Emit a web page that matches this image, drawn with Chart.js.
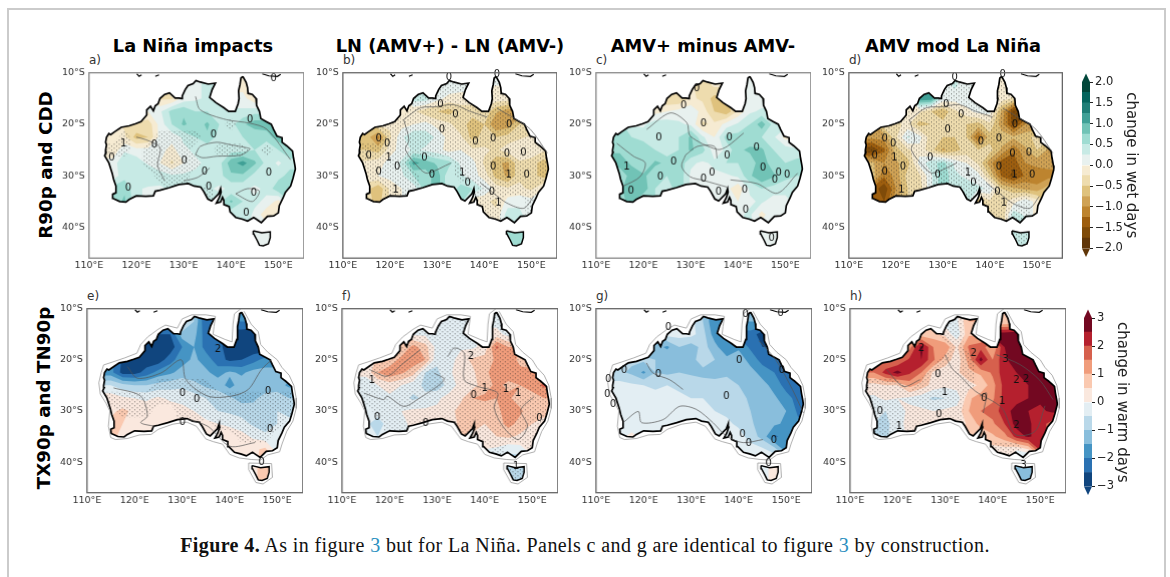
<!DOCTYPE html>
<html>
<head>
<meta charset="utf-8">
<script src="https://cdn.jsdelivr.net/npm/chart.js@4"></script>
<style>
  html, body { margin: 0; background: #fff; }
  #page { position: relative; width: 1170px; height: 577px; overflow: hidden; background: #fff; }
  #page canvas { position: absolute; }
  .txt { position: absolute; white-space: nowrap; font-family: "DejaVu Sans", sans-serif; color: #000; }
  .title { font-weight: bold; font-size: 17.8px; transform: translateX(-50%); }
  .letter { font-size: 12px; color: #333; }
  .row { font-weight: bold; font-size: 18.3px; transform: translate(-50%, -50%) rotate(-90deg); }
  #frame { position: absolute; left: 7px; top: 8px; width: 1155px; height: 600px; border: 2px solid #cbcbcb; }
  #caption { position: absolute; left: 0; width: 1170px; top: 534px; text-align: center; font-family: "Liberation Serif", serif; font-size: 20px; letter-spacing: 0.4px; color: #111; }
  #caption span { color: #2a8fc0; }
</style>
</head>
<body>
<div id="page">
  <div id="frame"></div>
  <div class="txt title" style="left:193px;top:35px">La Niña impacts</div>
  <div class="txt title" style="left:450px;top:35px">LN (AMV+) - LN (AMV-)</div>
  <div class="txt title" style="left:703px;top:35px">AMV+ minus AMV-</div>
  <div class="txt title" style="left:953px;top:35px">AMV mod La Niña</div>
  <div class="txt row" style="left:45px;top:165px">R90p and CDD</div>
  <div class="txt row" style="left:43px;top:398px">TX90p and TN90p</div>
  <div class="txt letter" style="left:89px;top:53px">a)</div>
  <div class="txt letter" style="left:343px;top:53px">b)</div>
  <div class="txt letter" style="left:596px;top:53px">c)</div>
  <div class="txt letter" style="left:849px;top:53px">d)</div>
  <div class="txt letter" style="left:87px;top:289px">e)</div>
  <div class="txt letter" style="left:342px;top:289px">f)</div>
  <div class="txt letter" style="left:596px;top:289px">g)</div>
  <div class="txt letter" style="left:850px;top:289px">h)</div>
  <div id="caption"><b>Figure 4.</b> As in figure <span>3</span> but for La Niña. Panels c and g are identical to figure <span>3</span> by construction.</div>
</div>
<script>
const o = null;
const sea = Array(18).fill(o);

const lonNodes = [112.5, 115, 117.5, 120, 122.5, 125, 127.5, 130, 132.5, 135, 137.5, 140, 142.5, 145, 147.5, 150, 152.5, 155];
const latNodes = [-10, -12.5, -15, -17.5, -20, -22.5, -25, -27.5, -30, -32.5, -35, -37.5, -40, -42.5, -45];
const lonTicks = [110, 120, 130, 140, 150];
const latTicks = [-10, -20, -30, -40];

// change in wet days (land nodes only)
const wetA = [sea,
  [o,o,o,o,o,o,o,.1,.2,.3,o,o,-.1,o,o,o,o,o],
  [o,o,o,o,o,o,-.3,.1,.2,.3,o,o,.1,-.2,o,o,o,o],
  [o,o,o,o,0,.2,.6,.7,.5,.5,.4,.3,.3,.4,o,o,o,o],
  [o,o,o,-.3,-.4,.1,.5,.8,.6,.8,.5,.4,.7,.9,.9,o,o,o],
  [o,-.1,-.2,-.6,-.5,.1,.1,.3,.5,.7,.4,.4,.5,.5,.6,.9,o,o],
  [o,-.2,.2,.1,.1,.1,-.1,.2,.3,.3,.3,.4,.4,.5,.3,.5,.7,o],
  [o,.1,.5,.4,.2,0,-.3,0,.2,.3,.4,.9,1.1,.8,.4,.2,.4,o],
  [o,.1,.4,.3,.5,.4,.3,.3,.3,.3,.4,.7,.7,.4,.3,.4,.6,o],
  [o,.6,.7,.3,.2,.2,o,o,o,.3,.2,.3,.3,.2,.3,.7,.5,o],
  [o,o,.8,.3,o,o,o,o,o,o,.4,.8,.5,.3,.2,-.1,o,o],
  [o,o,o,o,o,o,o,o,o,o,o,.3,.4,.2,-.2,o,o,o],
  [o,o,o,o,o,o,o,o,o,o,o,o,o,.1,.1,o,o,o],
  [o,o,o,o,o,o,o,o,o,o,o,o,o,.1,.1,o,o,o], sea];
const wetB = [sea,
  [o,o,o,o,o,o,o,0,.2,.1,o,o,0,o,o,o,o,o],
  [o,o,o,o,o,o,.4,.1,-.1,-.1,o,o,-.1,-.1,o,o,o,o],
  [o,o,o,o,-.1,-.2,-.4,-.5,-.6,-.4,-.4,-.3,-.7,-.9,o,o,o,o],
  [o,o,o,-.2,-.1,0,.1,-.1,-.2,-.4,-.6,-.5,-1,-.9,-.5,o,o,o],
  [o,-.6,-1.1,-.3,.2,.5,.4,.2,-.1,-.2,-.6,-.4,-.5,-.4,-.3,-.2,o,o],
  [o,-.5,-.6,-.1,.1,.3,.2,.1,-.1,0,-.2,-.2,-.3,-.1,0,0,-.2,o],
  [o,-.2,-.1,.1,.3,1.1,.9,.7,.6,.2,.1,-.3,-.7,-.8,-.3,-.4,-.6,o],
  [o,-.1,0,.1,.2,.5,.6,.9,.3,.3,.1,-.1,-.6,-.8,-.3,-.4,-.6,o],
  [o,-.4,-.7,-.2,0,.1,o,o,o,.6,.5,.2,-.1,-.2,-.2,-.3,0,o],
  [o,o,-.6,-.2,o,o,o,o,o,o,-.2,-.2,-.3,.1,.2,.1,o,o],
  [o,o,o,o,o,o,o,o,o,o,o,-.2,-.2,.4,.3,o,o,o],
  [o,o,o,o,o,o,o,o,o,o,o,o,o,.5,.5,o,o,o],
  [o,o,o,o,o,o,o,o,o,o,o,o,o,.5,.5,o,o,o], sea];
const wetC = [sea,
  [o,o,o,o,o,o,o,-.2,-.4,-.2,o,o,0,o,o,o,o,o],
  [o,o,o,o,o,o,-.5,-.2,-.3,-.6,o,o,.1,.1,o,o,o,o],
  [o,o,o,o,-.1,0,.1,.2,-.1,-.5,-.7,-.2,.2,.3,o,o,o,o],
  [o,o,o,.2,.4,.4,.3,.2,-.3,-.2,.1,.3,.5,.9,.4,o,o,o],
  [o,.6,.5,.4,.4,.3,.5,.8,.3,0,.6,.6,.6,.5,.3,-.1,o,o],
  [o,.7,.5,.7,.5,.3,.5,.8,.6,.1,.3,.7,.8,.8,.5,.4,.3,o],
  [o,.9,.7,.5,.8,.7,.7,.3,.2,.3,.5,.5,.6,.9,.6,.5,.6,o],
  [o,.5,.9,.8,.6,.5,.7,.2,.1,.2,.2,.3,.7,1,.8,.6,.5,o],
  [o,.7,.9,.9,.5,.3,o,o,o,.2,.1,-.2,.3,.5,.4,.3,.3,o],
  [o,o,.8,.5,o,o,o,o,o,o,.1,0,.2,.3,.1,.2,o,o],
  [o,o,o,o,o,o,o,o,o,o,o,.2,.3,-.1,.2,o,o,o],
  [o,o,o,o,o,o,o,o,o,o,o,o,o,.1,.1,o,o,o],
  [o,o,o,o,o,o,o,o,o,o,o,o,o,.1,.1,o,o,o], sea];
const wetD = [sea,
  [o,o,o,o,o,o,o,.1,.3,.1,o,o,-.1,o,o,o,o,o],
  [o,o,o,o,o,o,1.2,.2,.1,.2,o,o,-.1,-.3,o,o,o,o],
  [o,o,o,o,-.2,-.2,-.5,-.7,-.3,-.1,.1,.1,-.8,-1.7,o,o,o,o],
  [o,o,o,-.3,-.2,-.6,-.5,-.4,-.3,-.5,-.6,-.3,-.9,-1.6,-1,o,o,o],
  [o,-.9,-.9,-.3,.3,.1,-.4,-.5,-.5,-.5,-1.3,-.6,-.6,-.7,-.6,-.4,o,o],
  [o,-1.7,-1.3,-.6,-.3,-.1,-.4,-.8,-.6,-.4,-.5,-.4,-.8,-1.2,-.8,-.5,-.8,o],
  [o,-.7,-1,-.8,-.6,.1,.4,.6,.2,0,-.3,-.9,-1.4,-1.4,-1,-.9,-.9,o],
  [o,-.6,-1.2,-.9,-.4,-.3,.2,.7,.3,.2,.1,-.5,-1.3,-1.6,-1.2,-1.2,-1.1,o],
  [o,-1.3,-1.7,-1,-.5,-.4,o,o,o,.4,.3,.2,-.5,-.7,-.8,-.9,-.6,o],
  [o,o,-1.5,-.8,o,o,o,o,o,o,-.7,-.3,-.4,-.1,.2,-.1,o,o],
  [o,o,o,o,o,o,o,o,o,o,o,-.4,-.5,.4,.2,o,o,o],
  [o,o,o,o,o,o,o,o,o,o,o,o,o,.4,.4,o,o,o],
  [o,o,o,o,o,o,o,o,o,o,o,o,o,.4,.4,o,o,o], sea];

// change in warm days
const warmE = [sea,
  [o,o,o,o,o,o,o,-.3,-1,-2.5,o,o,-2,o,o,o,o,o],
  [o,o,o,o,o,o,-2.5,-1.2,-1.3,-2.3,o,o,-2.8,-2.9,o,o,o,o],
  [o,o,o,o,-2.8,-3.1,-2.8,-2,-1.5,-2.2,-2.3,-2.8,-3,-2.9,o,o,o,o],
  [o,o,o,-2.6,-2.8,-2.8,-2.2,-1.7,-1.4,-1.7,-2.3,-2.6,-2.5,-2.2,-1.8,o,o,o],
  [o,-1.8,-2.7,-2.7,-2.3,-1.8,-1.6,-1.3,-1.4,-1.4,-1.7,-1.4,-1.6,-1.3,-1.3,-1.3,o,o],
  [o,-.5,-.8,-1,-1,-.8,-.7,-.6,-.8,-1.1,-1.2,-1.7,-1.2,-1.3,-1.3,-1.3,-1.6,o],
  [o,.3,.1,0,-.1,.1,-.1,-.2,-.3,-.5,-.7,-.9,-1.2,-1.1,-.8,-.7,-1,o],
  [o,.4,.6,.4,.3,.3,.3,.2,0,-.2,-.5,-.6,-.7,-.8,-.7,-.5,-.7,o],
  [o,.6,.5,.3,.3,.2,o,o,o,.1,0,-.1,-.3,-.6,-.9,-.5,-.3,o],
  [o,o,.4,.2,o,o,o,o,o,o,.3,.3,.2,-.1,-.3,-.3,o,o],
  [o,o,o,o,o,o,o,o,o,o,o,.2,.2,.4,.6,o,o,o],
  [o,o,o,o,o,o,o,o,o,o,o,o,o,.4,.7,o,o,o],
  [o,o,o,o,o,o,o,o,o,o,o,o,o,.4,.7,o,o,o], sea];
const warmF = [sea,
  [o,o,o,o,o,o,o,-.2,-.2,-.3,o,o,-.2,o,o,o,o,o],
  [o,o,o,o,o,o,-.1,-.2,-.4,-.3,o,o,.2,-.2,o,o,o,o],
  [o,o,o,o,.5,1.2,.7,-.2,-.3,-.1,-.1,.2,1.6,1,o,o,o,o],
  [o,o,o,.6,1.2,1.3,1,-.4,-.3,.3,.6,.7,1.1,1.4,.8,o,o,o],
  [o,.1,1,1.4,1.1,.7,-.5,-.6,-.1,.3,.4,.9,1.2,1.2,1.2,1.1,o,o],
  [o,-.2,0,.2,0,-.3,-.6,-.8,-.3,.2,.3,.8,1.1,.9,1,1.3,1.6,o],
  [o,-.2,-.2,-.1,-.3,-.6,-.4,-.1,.2,.4,1,1.1,1,1.1,.7,.7,1,o],
  [o,-.3,-.3,-.1,0,.1,.1,.1,.3,.7,.8,.7,.9,1.2,1.1,.6,.6,o],
  [o,-.4,-.7,-.3,-.1,.1,o,o,o,.6,.7,.5,.7,1.2,.8,.5,.4,o],
  [o,o,-.5,-.3,o,o,o,o,o,o,.4,.4,.5,.6,.4,.3,o,o],
  [o,o,o,o,o,o,o,o,o,o,o,0,-.1,-.4,-.2,o,o,o],
  [o,o,o,o,o,o,o,o,o,o,o,o,o,-.7,-.9,o,o,o],
  [o,o,o,o,o,o,o,o,o,o,o,o,o,-.7,-.9,o,o,o], sea];
const warmG = [sea,
  [o,o,o,o,o,o,o,-.3,-1,-2,o,o,-1.5,o,o,o,o,o],
  [o,o,o,o,o,o,-.3,-.3,-.8,-1.8,o,o,-2.2,-2.8,o,o,o,o],
  [o,o,o,o,-1.3,-1.6,-1,-1.3,-.8,-1.3,-2,-1.6,-2.1,-2.5,o,o,o,o],
  [o,o,o,-.9,-1,-1.1,-1,-1.2,-.7,-1,-1.3,-1.2,-1.7,-2.2,-2.3,o,o,o],
  [o,-.9,-1.1,-1.6,-1,-1.1,-1,-1.1,-1.2,-1.3,-1.1,-1.2,-1.3,-1.7,-2,-2.2,o,o],
  [o,-.3,-.4,-.5,-.6,-.5,-.6,-.6,-.7,-.7,-.8,-1,-1.2,-1.3,-1.7,-2.2,-2.2,o],
  [o,-.2,-.3,-.3,-.3,-.4,-.4,-.5,-.5,-.6,-.7,-.8,-1.1,-1.3,-1.4,-1.8,-2.2,o],
  [o,-.2,-.2,-.2,-.2,-.2,-.2,-.2,-.3,-.5,-.6,-.7,-1,-1.2,-1.3,-1.5,-2.1,o],
  [o,-.1,-.2,-.3,-.2,-.2,o,o,o,-.3,-.4,-.6,-.9,-1.3,-1.4,-1.6,-1.9,o],
  [o,o,.1,-.1,o,o,o,o,o,o,-.3,-.3,-.7,-1.2,-2.1,-1.8,o,o],
  [o,o,o,o,o,o,o,o,o,o,o,-.2,-.3,-.4,-.8,o,o,o],
  [o,o,o,o,o,o,o,o,o,o,o,o,o,-.1,.1,o,o,o],
  [o,o,o,o,o,o,o,o,o,o,o,o,o,-.1,.1,o,o,o], sea];
const warmH = [sea,
  [o,o,o,o,o,o,o,-.2,-.1,1,o,o,.5,o,o,o,o,o],
  [o,o,o,o,o,o,.7,.3,-.3,.9,o,o,2.8,3,o,o,o,o],
  [o,o,o,o,1.3,2.7,1.5,1.4,.4,1.6,1.8,1,2.5,2.6,o,o,o,o],
  [o,o,o,1.5,2.1,2.5,1.6,.8,.2,1.2,2.7,1.5,2.4,2.8,2.7,o,o,o],
  [o,1.5,2.2,2.7,2.1,1.5,.4,.2,.4,.9,1.1,1.6,2.3,2.5,2.7,2.8,o,o],
  [o,.3,.5,.5,1.2,.8,.3,.1,.2,.3,.6,1.3,2.2,2.2,2.5,2.8,2.8,o],
  [o,-.1,.1,0,-.1,-.3,-.6,-.5,-.3,.9,1.3,1.4,2.2,2.3,2.5,2.6,2.8,o],
  [o,-.2,-.5,-.2,.1,.1,0,.1,.2,1,1.5,1.7,2.3,2.7,2.5,2.4,2.6,o],
  [o,-.5,-.7,-.1,.1,.1,o,o,o,.6,1.2,1.4,2,2.7,2.6,2.2,1.8,o],
  [o,o,-.6,-.2,o,o,o,o,o,o,.5,.9,1.3,2.2,2.6,2.2,o,o],
  [o,o,o,o,o,o,o,o,o,o,o,.3,.3,.1,.5,o,o,o],
  [o,o,o,o,o,o,o,o,o,o,o,o,o,-1.1,-1.3,o,o,o],
  [o,o,o,o,o,o,o,o,o,o,o,o,o,-1.1,-1.3,o,o,o], sea];

// stippling (significant or not), same nodes, "." is sea
const blankRow = "..................";
const stipA = [blankRow,
  ".......000..0.....", "......0000..00....", "....0000000000....", "...000000001000...",
  ".010011110000000..", ".1101111001110100.", ".0001111100000000.", ".0000111000000000.",
  ".00000...10000000.", "..00......000000..", "...........0000...", ".............00...", ".............00...", blankRow];
const stipB = [blankRow,
  ".......111..1.....", "......1111..11....", "....0111111111....", "...111111111111...",
  ".001111111111111..", ".1111111111111111.", ".1111000011111111.", ".1111100011111111.",
  ".00111...00111110.", "..01......111001..", "...........1100...", ".............00...", ".............00...", blankRow];
const stipD = [blankRow,
  ".......111..1.....", "......0111..11....", "....1111111111....", "...111111111111...",
  ".111111111111111..", ".1111111111111111.", ".1111111111111111.", ".1111111111111100.",
  ".00111...11111100.", "..01......111110..", "...........1111...", ".............11...", ".............11...", blankRow];
const stipE = [blankRow,
  ".......000..0.....", "......0000..00....", "....0000000000....", "...000000000000...",
  ".000000000000000..", ".0000111110000000.", ".1111111111111111.", ".0111001111111111.",
  ".00000...01111110.", "..00......001110..", "...........0000...", ".............00...", ".............00...", blankRow];
const stipF = [blankRow,
  ".......111..1.....", "......1111..11....", "....1111111111....", "...111111111111...",
  ".111111111111111..", ".1111111111111111.", ".1111111111111111.", ".0111111111111111.",
  ".00111...11111111.", "..01......111111..", "...........0100...", ".............11...", ".............11...", blankRow];
const stipH = [blankRow,
  ".......110..0.....", "......0110..00....", "....0000100000....", "...000011100000...",
  ".000001111000000..", ".1110111110000000.", ".1111111100000000.", ".1111111100000000.",
  ".11111...00000000.", "..11......000000..", "...........1110...", ".............00...", ".............00...", blankRow];

// coastline, lon/lat
const coastMain = [[142.5,-10.7],[143.2,-11.9],[143.5,-12.9],[143.6,-14],[144.5,-14.2],[145.3,-15],[145.4,-16.3],[146,-17.5],[146.3,-18.9],[147.5,-19.5],[148.5,-20],[149,-21],[149.7,-22.3],[150.8,-22.6],[150.8,-23.5],[151.8,-24.2],[153,-25.2],[153.2,-26.5],[153.5,-28],[153.6,-28.7],[153.1,-30.5],[152.6,-32],[151.5,-33.2],[151,-34.3],[150.2,-35.8],[150,-37.2],[149,-37.8],[147.7,-37.9],[146.4,-39.1],[145.3,-38.4],[144.8,-38.1],[143.5,-38.8],[142.3,-38.4],[141,-38.1],[139.8,-37],[139.6,-36],[138.5,-35.6],[138.5,-34.8],[138.2,-34.2],[137.8,-35.1],[136.9,-35.3],[137.5,-34.3],[137.9,-33.2],[137.8,-32.5],[137.4,-33.5],[135.9,-34.9],[135.1,-34.5],[134.2,-33],[133.6,-32.2],[132.2,-32],[131,-31.5],[129,-31.7],[127,-32.3],[125,-32.8],[124,-33],[123.6,-33.9],[122,-34],[120,-33.9],[118.5,-34.6],[117.8,-35.1],[116.5,-35],[115.1,-34.4],[115,-33.6],[115.7,-33.3],[115.7,-32],[115.2,-30.7],[114.9,-29.5],[114.2,-27.5],[113.3,-26.1],[113.6,-25.5],[113.5,-25],[113.7,-24],[113.5,-23.5],[113.7,-22.5],[114.2,-21.8],[114.6,-22],[115.5,-21.4],[116.8,-20.6],[118.5,-20.3],[119.8,-19.9],[121,-19.5],[122.2,-18.2],[122.2,-17.2],[123,-16.5],[123.6,-17.4],[124,-16.4],[124.6,-16],[125,-15],[126,-14.2],[127,-13.9],[128.2,-14.9],[129,-14.9],[129.6,-15],[129.7,-14.5],[130.3,-13.3],[130.9,-12.5],[132,-12.1],[132.6,-11.5],[133.5,-11.8],[135.2,-12.2],[136.7,-12],[136,-13.3],[135.5,-14.8],[136.8,-15.8],[138.5,-16.8],[139.5,-17.5],[140.9,-17.5],[141.5,-16],[141.7,-15],[141.6,-13.5],[141.9,-12.3],[142.1,-11],[142.5,-10.7]];
const coastTas = [[144.7,-40.7],[146.5,-41.1],[148.3,-40.9],[148.3,-42],[147.9,-43.2],[146.8,-43.6],[146,-43.5],[145.5,-42.5],[144.8,-41.3],[144.7,-40.7]];
const islands = [
  [[120.1,-10.2],[120.6,-10.7],[121.1,-10.4]],
  [[124,-10.7],[124.8,-10.4]],
  [[146.6,-10.2],[148,-10.6],[149.8,-10.7],[150.5,-10.3]],
];
const maskMain = [[143,-10.5],[144.5,-13],[146,-14.5],[146.5,-17],[148,-18.5],[150,-20],[151,-21.5],[152.5,-23],[153.5,-25],[154,-27.5],[154,-29.5],[153.3,-32],[152,-34],[151,-36.5],[150.5,-38],[148,-38.6],[146.5,-39.6],[144.5,-39.5],[142,-39.2],[140,-38.5],[138.5,-36.5],[136.5,-36],[135,-35.5],[133,-33],[131,-32.2],[128,-32.6],[125,-33.6],[123.5,-34.6],[121,-34.7],[118.5,-35.4],[116,-35.6],[115,-35.2],[114.5,-33],[114.8,-30],[114,-28.5],[112.8,-26.7],[112.5,-24.5],[113,-22.5],[113.5,-21],[115.5,-20.4],[118,-19.6],[120.5,-18.7],[121.3,-17],[122.8,-15.5],[125,-14],[126.5,-13.2],[129,-13.8],[130,-12],[132,-11.2],[135,-11.2],[137,-11.5],[136.7,-13.5],[136.5,-15],[139,-16],[140.5,-16.5],[140.7,-13],[141,-11],[142.5,-9.9]];
const maskTas = [[144,-40.2],[148.8,-40.3],[149,-43],[147,-44.3],[145.5,-44],[144,-41.5],[144,-40.2]];

// thin contour lines and their inline labels
const linesA = [
  [[132.5,-14.6],[133.5,-17.2],[139,-19.1],[144,-19.8],[147.6,-21],[152.6,-26.9]],
  [[132.5,-25.9],[133.5,-24.3],[137,-23.5],[140,-24],[143,-24.5],[144,-24.8],[142,-26],[137,-26.2],[134,-26.5],[132.5,-25.9]],
  [[120,-22.5],[122,-23],[125,-24.5],[124.5,-28],[126,-31]],
  [[130,-31],[133,-30.3],[135.5,-28.5]],
  [[141,-33.5],[143.5,-32.5],[146,-33],[144.5,-35],[141,-33.5]],
];
const labelsA = [[144,-19.1,"0"],[136.3,-22.1,"0"],[123.8,-24,"0"],[114.8,-26.6,"0"],[130.1,-27.2,"0"],[134.4,-29.3,"0"],[148,-29.4,"0"],[118.3,-32.4,"0"],[135.3,-32.1,"0"],[144.8,-33.4,"0"],[143.2,-37.2,"0"],[149,-11.2,"0"],[117.3,-23.7,"1"]];
const linesB = [
  [[122.9,-19.1],[126.5,-16.8],[129.7,-16.6],[133.5,-16.2],[137,-17.5],[140.6,-18.6]],
  [[122.9,-19.1],[124,-23],[123.3,-25],[126.5,-28.8],[128,-29.5],[133,-27.5]],
  [[142.7,-16.9],[146.3,-18.8],[149.8,-21],[153.4,-25.6]],
  [[139.2,-31.4],[142,-33.4],[144.8,-35.3],[148.4,-36.3],[150.5,-34]],
];
const labelsB = [[117.6,-22.9,"0"],[119.4,-23.7,"0"],[115.5,-26.2,"0"],[119.7,-26.6,"1"],[117.6,-29.2,"0"],[121.5,-28.3,"0"],[131,-21,"0"],[133.9,-18.2,"0"],[130.7,-16.2,"0"],[132.5,-11,"0"],[142.7,-10.3,"0"],[145.3,-20,"0"],[141.9,-22.8,"0"],[138.1,-23.5,"0"],[144.8,-25.7,"0"],[148.3,-25.5,"0"],[141.9,-28.3,"0"],[149,-29.9,"0"],[145.2,-29.8,"1"],[127.3,-26.6,"0"],[128.9,-29.8,"0"],[136.5,-31.4,"0"],[141.6,-33.2,"0"],[143,-35.4,"1"],[135.3,-29.4,"1"],[121.2,-32.7,"1"]];
const linesC = [
  [[120.7,-21],[125.7,-17.8],[129.2,-19.7],[129.9,-22.3],[135.6,-24.9],[137.7,-24.3],[141.2,-21.7]],
  [[128.9,-26],[131.4,-24.3],[135,-24.3],[135.6,-26.6]],
  [[128.9,-26],[128.1,-28.2],[129.9,-30.2],[132.7,-30.9],[137.7,-32.2]],
  [[138.4,-30.8],[144,-31.5],[148.3,-33.4],[152.6,-29.5]],
  [[114.4,-23.7],[117.9,-26.2],[120.4,-27.5],[119.3,-30.2],[115.8,-32]],
];
const labelsC = [[128.5,-16.3,"0"],[132.7,-19.8,"0"],[138.2,-22.7,"0"],[123.3,-22.7,"0"],[143.9,-24.5,"0"],[137.7,-26.1,"0"],[126.4,-27.3,"0"],[116.5,-28.2,"1"],[145.3,-28.5,"0"],[148.6,-29.5,"0"],[150.4,-29.8,"0"],[147.8,-30.8,"0"],[134.5,-29.4,"0"],[132.7,-30.6,"0"],[123.6,-30.3,"0"],[117.4,-33,"0"],[135.9,-33.1,"0"],[141.4,-32.7,"0"],[141.6,-36.6,"0"],[131.3,-13.1,"0"],[147.1,-42.1,"0"]];
const linesE = [
  [[118.5,-21.3],[120.6,-23.6],[125.5,-22.6],[129.8,-20],[130.8,-23.9],[135.4,-27.1],[140.4,-27.1],[143.9,-25.8],[146.7,-21.9],[148.8,-20]],
  [[115.6,-25.5],[121.3,-27.1],[122.7,-31],[121.3,-32.3],[124.1,-33]],
  [[131.2,-31.7],[135.4,-33],[140,-36.9],[145.3,-36.2]],
];
const labelsE = [[130.1,-32.3,"0"],[146.7,-40.1,"0"],[137.5,-18,"2"],[130.1,-26.6,"0"],[133.1,-27.7,"0"],[148.1,-26.2,"0"],[148.5,-33.6,"0"]];
const linesF = [
  [[116,-22],[119.5,-23.2],[123,-20.6],[126.5,-18]],
  [[114.6,-26.5],[118.8,-27.8],[119.5,-27.1],[123,-29.1],[125.8,-27.8],[131.5,-23.9],[129.4,-22.6]],
  [[132.2,-19.4],[133.6,-17.7],[135.7,-18.7],[135.7,-23.9],[138.5,-25.2],[142.7,-26.5],[142,-29.4],[143.8,-33],[147,-35.6],[149,-33],[147.6,-29.8],[150.4,-27.2]],
];
const labelsF = [[116.3,-24.1,"1"],[137.7,-27,"0"],[140,-25.6,"1"],[127.6,-32.5,"0"],[117.4,-31.3,"0"],[151.5,-31.4,"0"],[144.5,-25.7,"1"],[147,-26.5,"1"],[137.1,-19.4,"2"],[146.6,-40.8,"1"]];
const linesG = [
  [[115.7,-32.3],[118.9,-30.1],[119.6,-32.3],[124.1,-31.7],[127.6,-29.1],[131.1,-29.7],[134.6,-32.3],[137.4,-34.9],[140.9,-36.2],[145.1,-35.6]],
  [[120.6,-20.6],[122,-22.6],[125.5,-23.9],[128.3,-25.8]],
  [[144.3,-16.3],[147.8,-20],[151.3,-25.8],[153.6,-30.4]],
];
const labelsG = [[125.2,-13.7,"0"],[112.6,-23.9,"0"],[112.4,-26.8,"0"],[113.6,-28.8,"0"],[115.9,-22.1,"0"],[123.1,-22.9,"0"],[137.4,-27.1,"0"],[140.1,-20.2,"0"],[149.1,-22.1,"0"],[147.4,-35.8,"0"],[142.1,-36.4,"0"],[140.8,-34.5,"0"],[146.3,-40.3,"0"],[148.8,-10.9,"0"],[141.4,-11.1,"0"]];
const linesH = [
  [[130,-19],[131.4,-21.6],[133.5,-23.5],[136.3,-26.1],[141.9,-29.4],[144.7,-34.6],[148.9,-34],[151,-29]],
  [[140.8,-19],[145.7,-20.9],[149.9,-24],[152.7,-27.8]],
  [[137.3,-27.1],[138.7,-26.5],[138,-30.4]],
  [[117.7,-21.9],[121.2,-25.2],[124.7,-23.9]],
];
const labelsH = [[128.5,-22.9,"0"],[129.9,-26.3,"1"],[116.3,-30,"0"],[120.3,-33,"1"],[128.7,-30.7,"0"],[138.2,-27.5,"0"],[142,-28.2,"1"],[125,-17.8,"2"],[136,-18.8,"2"],[142.7,-20,"3"],[145,-24,"2"],[147,-23.8,"2"],[146.5,-40.6,"3"],[145,-32.8,"2"]];

// colour levels
const wetLevels = [-1.75,-1.5,-1.25,-1,-.75,-.5,-.25,0,.25,.5,.75,1,1.25,1.5,1.75];
const wetColors = ["#603608","#7f4b09","#9d5e0f","#bd842f","#cfa255","#dfc27d","#eedcae","#f6ebd2","#e8f1ef","#c7eae5","#9fdcd2","#71c3b6","#40a096","#1f7f77","#04655d","#01473a"];
const wetTicks = [2, 1.5, 1, .5, 0, -.5, -1, -1.5, -2];
const warmLevels = [-2.5,-2,-1.5,-1,-.5,0,.5,1,1.5,2,2.5];
const warmColors = ["#10457e","#2a71b2","#4594c4","#89bedc","#b9d8e9","#e3eef3","#fae8de","#fac9b0","#f09c7b","#d6604d","#b5202e","#730821"];
const warmTicks = [3, 2, 1, 0, -1, -2, -3];

const fillSea = (grid) =>
  grid.map((row, r) =>
    row.map((v, c) => {
      if (v !== null) return v;
      let best = null;
      let dist = 1e9;
      grid.forEach((other, i) =>
        other.forEach((w, j) => {
          if (w === null) return;
          const d = (i - r) ** 2 + (j - c) ** 2;
          if (d < dist) {
            dist = d;
            best = w;
          }
        })
      );
      return best;
    })
  );

const toNodes = (grid) =>
  fillSea(grid).flatMap((row, r) => row.map((v, c) => ({ x: lonNodes[c], y: latNodes[r], v })));

// one polygon per grid cell: the part of the cell where v >= level
const addRegion = (ctx, nodes, x, y, level) => {
  const nc = lonNodes.length;
  ctx.beginPath();
  for (let r = 0; r < latNodes.length - 1; r++) {
    for (let c = 0; c < nc - 1; c++) {
      const quad = [nodes[r * nc + c], nodes[r * nc + c + 1], nodes[(r + 1) * nc + c + 1], nodes[(r + 1) * nc + c]];
      let first = true;
      quad.forEach((a, i) => {
        const b = quad[(i + 1) % 4];
        const put = (lon, lat) => {
          const px = x.getPixelForValue(lon);
          const py = y.getPixelForValue(lat);
          if (first) ctx.moveTo(px, py);
          else ctx.lineTo(px, py);
          first = false;
        };
        if (a.v >= level) put(a.x, a.y);
        if (a.v >= level !== b.v >= level) {
          const t = (level - a.v) / (b.v - a.v);
          put(a.x + (b.x - a.x) * t, a.y + (b.y - a.y) * t);
        }
      });
      if (!first) ctx.closePath();
    }
  }
};

const dotTile = () => {
  const tile = document.createElement("canvas");
  tile.width = 5;
  tile.height = 4;
  const t = tile.getContext("2d");
  t.fillStyle = "rgba(40,40,40,0.7)";
  [[1, 0.8], [3.5, 2.8]].forEach(([a, b]) => {
    t.beginPath();
    t.arc(a, b, 0.55, 0, Math.PI * 2);
    t.fill();
  });
  return tile;
};

const contourFill = (levels, colors, stipple) => ({
  id: "contourFill",
  beforeDatasetsDraw: (chart) => {
    const { ctx, scales } = chart;
    const { x, y } = scales;
    const nodes = chart.data.datasets[0].data;
    ctx.save();
    ctx.beginPath();
    [coastMain, coastTas].forEach((shape) => {
      shape.forEach(([lon, lat], i) => {
        const px = x.getPixelForValue(lon);
        const py = y.getPixelForValue(lat);
        if (i) ctx.lineTo(px, py);
        else ctx.moveTo(px, py);
      });
      ctx.closePath();
    });
    ctx.clip();
    colors.forEach((color, i) => {
      addRegion(ctx, nodes, x, y, i ? levels[i - 1] : -Infinity);
      ctx.fillStyle = color;
      ctx.fill();
    });
    if (stipple) {
      const grid = stipple.map((s) => s.split("").map((ch) => (ch === "." ? null : +ch)));
      addRegion(ctx, toNodes(grid), x, y, 0.5);
      ctx.fillStyle = ctx.createPattern(dotTile(), "repeat");
      ctx.fill();
    }
    ctx.restore();
  },
});

const contourLabels = (labels) => ({
  id: "contourLabels",
  afterDatasetsDraw: (chart) => {
    const { ctx, scales } = chart;
    ctx.save();
    ctx.font = "10px 'DejaVu Sans'";
    ctx.fillStyle = "#111";
    ctx.textAlign = "center";
    ctx.textBaseline = "middle";
    labels.forEach(([lon, lat, text]) => {
      ctx.fillText(text, scales.x.getPixelForValue(lon), scales.y.getPixelForValue(lat));
    });
    ctx.restore();
  },
});

const boxFrame = (color, width) => ({
  id: "boxFrame",
  afterDraw: (chart) => {
    const { ctx, chartArea: a } = chart;
    ctx.save();
    ctx.strokeStyle = color;
    ctx.lineWidth = width;
    ctx.strokeRect(a.left, a.top, a.right - a.left, a.bottom - a.top);
    ctx.restore();
  },
});

const lineSet = (pts, color, width, tension = 0) => ({
  data: pts.map(([x, y]) => ({ x, y })),
  showLine: true,
  borderColor: color,
  borderWidth: width,
  tension,
  pointRadius: 0,
  fill: false,
});

const addCanvas = (w, h) => {
  const canvas = document.createElement("canvas");
  canvas.width = w;
  canvas.height = h;
  canvas.style.width = w + "px";
  canvas.style.height = h + "px";
  document.getElementById("page").appendChild(canvas);
  return canvas;
};

// size the canvas so the plot area lands exactly on the box
const placeChart = (chart, box) => {
  for (let i = 0; i < 2; i++) {
    const a = chart.chartArea;
    chart.resize(chart.width + box.w - (a.right - a.left), chart.height + box.h - (a.bottom - a.top));
  }
  chart.canvas.style.left = box.left - chart.chartArea.left + "px";
  chart.canvas.style.top = box.top - chart.chartArea.top + "px";
};

const makePanel = (box, field, levels, colors, stipple, lines, labels, frameColor, withMask) => {
  const datasets = [{ data: toNodes(field), pointRadius: 0, showLine: false }];
  lines.forEach((l) => datasets.push(lineSet(l, "#555", 0.7, 0.3)));
  if (withMask) {
    datasets.push(lineSet(maskMain, "#999", 0.8));
    datasets.push(lineSet(maskTas, "#999", 0.8));
  }
  islands.forEach((l) => datasets.push(lineSet(l, "#000", 1.2)));
  datasets.push(lineSet(coastMain, "#000", 1.7));
  datasets.push(lineSet(coastTas, "#000", 1.5));
  const tickFont = { family: "DejaVu Sans", size: 9.5 };
  const chart = new Chart(addCanvas(box.w + 50, box.h + 30), {
    type: "scatter",
    data: { datasets },
    options: {
      responsive: false,
      maintainAspectRatio: false,
      animation: false,
      events: [],
      plugins: { legend: { display: false }, tooltip: { enabled: false } },
      scales: {
        x: {
          type: "linear",
          min: 110,
          max: 155.4,
          grid: { display: false, drawTicks: false },
          border: { display: false },
          afterBuildTicks: (s) => { s.ticks = lonTicks.map((value) => ({ value })); },
          ticks: { font: tickFont, color: "#333", padding: 2, maxRotation: 0, callback: (v) => `${v}°E` },
        },
        y: {
          min: -46,
          max: -10,
          grid: { display: false, drawTicks: false },
          border: { display: false },
          afterBuildTicks: (s) => { s.ticks = latTicks.map((value) => ({ value })); },
          ticks: { font: tickFont, color: "#333", padding: 4, callback: (v) => `${-v}°S` },
        },
      },
    },
    plugins: [contourFill(levels, colors, stipple), contourLabels(labels), boxFrame(frameColor, 1.3)],
  });
  placeChart(chart, box);
  return chart;
};

const endTriangles = (colors, size) => ({
  id: "endTriangles",
  afterDraw: (chart) => {
    const { ctx, chartArea: a } = chart;
    const mid = (a.left + a.right) / 2;
    [[a.top, -size, colors[colors.length - 1]], [a.bottom, size, colors[0]]].forEach(([edge, d, color]) => {
      ctx.fillStyle = color;
      ctx.beginPath();
      ctx.moveTo(a.left, edge);
      ctx.lineTo(a.right, edge);
      ctx.lineTo(mid, edge + d);
      ctx.closePath();
      ctx.fill();
    });
  },
});

const makeColorbar = (box, levels, colors, ticks, label, format, axisWidth) => {
  const top = ticks[0];
  const bottom = ticks[ticks.length - 1];
  const edges = [bottom, ...levels, top];
  const chart = new Chart(addCanvas(box.w + axisWidth, box.h + 30), {
    type: "bar",
    data: {
      labels: [label],
      datasets: colors.map((c, i) => ({
        data: [[edges[i], edges[i + 1]]],
        backgroundColor: c,
        barPercentage: 1,
        categoryPercentage: 1,
        grouped: false,
      })),
    },
    options: {
      responsive: false,
      maintainAspectRatio: false,
      animation: false,
      events: [],
      layout: { padding: { top: 10, bottom: 10 } },
      plugins: { legend: { display: false }, tooltip: { enabled: false } },
      scales: {
        x: { display: false },
        y: {
          position: "right",
          min: bottom,
          max: top,
          grid: { drawOnChartArea: false, drawTicks: true, tickLength: 3, color: "#222" },
          border: { display: false },
          afterBuildTicks: (s) => { s.ticks = ticks.map((value) => ({ value })); },
          afterFit: (s) => { s.width = axisWidth; },
          ticks: { font: { family: "DejaVu Sans", size: 11.5 }, color: "#222", padding: 2, callback: format },
          title: { display: true, text: label, font: { family: "DejaVu Sans", size: 15 }, color: "#222", padding: { top: 2, bottom: 0 } },
        },
      },
    },
    plugins: [endTriangles(colors, 8.5)],
  });
  placeChart(chart, box);
};

const row1 = (left, w) => ({ left, top: 73, w, h: 184.5 });
const row2 = (left, w) => ({ left, top: 309, w, h: 184 });

makePanel(row1(89, 214), wetA, wetLevels, wetColors, stipA, linesA, labelsA, "#888", false);
makePanel(row1(342.5, 214), wetB, wetLevels, wetColors, stipB, linesB, labelsB, "#666", false);
makePanel(row1(596, 214), wetC, wetLevels, wetColors, null, linesC, labelsC, "#888", false);
makePanel(row1(849, 213.5), wetD, wetLevels, wetColors, stipD, linesB, labelsB, "#666", false);
makePanel(row2(87, 215), warmE, warmLevels, warmColors, stipE, linesE, labelsE, "#666", true);
makePanel(row2(342, 215), warmF, warmLevels, warmColors, stipF, linesF, labelsF, "#666", true);
makePanel(row2(596, 215), warmG, warmLevels, warmColors, null, linesG, labelsG, "#666", true);
makePanel(row2(850, 215), warmH, warmLevels, warmColors, stipH, linesH, labelsH, "#666", true);

const minus = (v) => String(v).replace("-", "\u2212");
makeColorbar({ left: 1082, top: 81.7, w: 8, h: 166.5 }, wetLevels, wetColors, wetTicks, "change in wet days", (v) => minus(v.toFixed(1)), 52);
makeColorbar({ left: 1084, top: 317.7, w: 8, h: 168.5 }, warmLevels, warmColors, warmTicks, "change in warm days", (v) => minus(v), 41);
</script>
</body>
</html>
